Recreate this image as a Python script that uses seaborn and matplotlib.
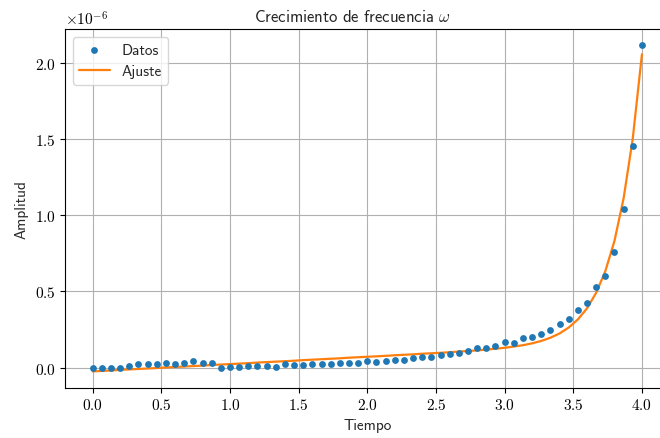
import numpy as np
import pandas as pd
import matplotlib
matplotlib.use("Agg")
import matplotlib.pyplot as plt
import seaborn as sns

# Sampling times (s) and measured amplitude, in units of 1e-6
tiempo = np.linspace(0.0, 4.0, 61)
amplitud_datos = [
    0.000, 0.000, 0.000, 0.000, 0.008, 0.022, 0.025, 0.025, 0.032, 0.025,
    0.030, 0.040, 0.030, 0.030, 0.000, 0.005, 0.005, 0.008, 0.011, 0.011,
    0.004, 0.024, 0.020, 0.015, 0.024, 0.022, 0.022, 0.031, 0.031, 0.029,
    0.041, 0.035, 0.044, 0.049, 0.049, 0.060, 0.072, 0.072, 0.081, 0.091,
    0.096, 0.112, 0.127, 0.127, 0.143, 0.169, 0.164, 0.193, 0.202, 0.219,
    0.248, 0.287, 0.318, 0.375, 0.425, 0.526, 0.601, 0.757, 1.039, 1.452,
    2.116,
]
# Fitted curve evaluated at the same times, units of 1e-6
amplitud_ajuste = [
    -0.025, -0.022, -0.019, -0.015, -0.012, -0.009, -0.006, -0.003, 0.001, 0.004,
    0.007, 0.010, 0.013, 0.017, 0.020, 0.023, 0.026, 0.029, 0.033, 0.036,
    0.039, 0.042, 0.045, 0.049, 0.052, 0.055, 0.058, 0.061, 0.065, 0.068,
    0.071, 0.074, 0.077, 0.081, 0.084, 0.087, 0.091, 0.094, 0.097, 0.101,
    0.105, 0.109, 0.113, 0.118, 0.124, 0.130, 0.138, 0.147, 0.159, 0.175,
    0.196, 0.224, 0.263, 0.316, 0.389, 0.491, 0.633, 0.832, 1.112, 1.505,
    2.057,
]
escala = 1e-6

df = pd.DataFrame({
    "t": tiempo,
    "datos": np.array(amplitud_datos) * escala,
    "ajuste": np.array(amplitud_ajuste) * escala,
})

sns.set_style("ticks")
plt.rcParams.update({
    "font.family": ["cmr10"],
    "mathtext.fontset": "cm",
    "axes.formatter.use_mathtext": True,
    "axes.unicode_minus": False,
    "font.size": 11,
    "axes.edgecolor": "black",
    "xtick.color": "black",
    "ytick.color": "black",
    "xtick.direction": "out",
    "ytick.direction": "out",
    "xtick.major.size": 3.5,
    "ytick.major.size": 3.5,
    "xtick.labelsize": 11,
    "ytick.labelsize": 11,
    "grid.color": "#b0b0b0",
    "grid.linewidth": 0.8,
})

sans = "cmss10"

fig = plt.figure(figsize=(6.6, 4.39), dpi=100)
ax = fig.add_axes([65.2 / 660, 50.3 / 439, 604.2 / 660, 358.7 / 439])

sns.scatterplot(data=df, x="t", y="datos", ax=ax, color="#1f77b4", s=24,
                linewidth=0, label="Datos", zorder=3)
sns.lineplot(data=df, x="t", y="ajuste", ax=ax, color="#ff7f0e", linewidth=1.6,
             label="Ajuste", zorder=2)

ax.set_xticks(np.arange(0, 4.01, 0.5))
ax.set_yticks(np.arange(0, 2.01e-6, 0.5e-6))
ax.grid(True)
ax.set_axisbelow(True)
for s in ax.spines.values():
    s.set_linewidth(0.8)

ax.set_xlabel("Tiempo", fontfamily=sans, fontsize=11)
ax.set_ylabel("Amplitud", fontfamily=sans, fontsize=11)
# Title is centred on the figure rather than on the (wider) axes
fig.text(352 / 660, 1 - 22 / 439, r"Crecimiento de frecuencia $\omega$",
         fontfamily=sans, fontsize=12, ha="center", va="baseline")

leg = ax.legend(loc="upper left", prop={"family": sans, "size": 11},
                fancybox=True, framealpha=0.8, edgecolor="#cccccc")

fig.savefig("out.png", dpi=100)
